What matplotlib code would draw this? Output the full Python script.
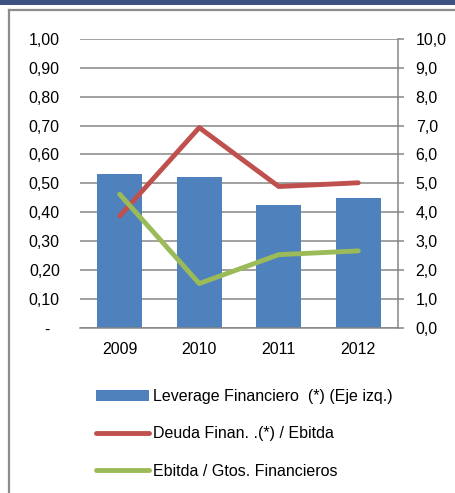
import matplotlib
matplotlib.use("Agg")
import matplotlib.pyplot as plt
from matplotlib.patches import Rectangle
from matplotlib.lines import Line2D

plt.rcParams['font.family'] = ['Liberation Sans', 'DejaVu Sans']

years = ["2009", "2010", "2011", "2012"]
leverage = [0.532, 0.522, 0.426, 0.449]
deuda_ebitda = [3.87, 6.93, 4.89, 5.02]
ebitda_gtos = [4.62, 1.53, 2.53, 2.66]

left_ticks = [0.0, 0.1, 0.2, 0.3, 0.4, 0.5, 0.6, 0.7, 0.8, 0.9, 1.0]
left_labels = ["-  ", "0,10", "0,20", "0,30", "0,40", "0,50", "0,60", "0,70", "0,80", "0,90", "1,00"]
right_ticks = [0, 1, 2, 3, 4, 5, 6, 7, 8, 9, 10]
right_labels = ["0,0", "1,0", "2,0", "3,0", "4,0", "5,0", "6,0", "7,0", "8,0", "9,0", "10,0"]

labels = ["Leverage Financiero  (*) (Eje izq.)", "Deuda Finan. .(*) / Ebitda", "Ebitda / Gtos. Financieros"]

W, H = 456, 493
fig = plt.figure(figsize=(W / 100, H / 100), dpi=100)

# banner and frame
fig.patches.append(Rectangle((0, 1 - 4.5 / H), 1, 4.5 / H, transform=fig.transFigure,
                             facecolor="#3D5280", edgecolor="none"))
frame_c = "#8C8C8C"
fig.lines.append(Line2D([9.5 / W, 1], [1 - 10 / H, 1 - 10 / H], transform=fig.transFigure,
                        color=frame_c, lw=1.6))
fig.lines.append(Line2D([9.5 / W, 9.5 / W], [0, 1 - 10 / H], transform=fig.transFigure,
                        color=frame_c, lw=1.6))

ax_l, ax_r, ax_t, ax_b = 80, 398, 39, 327.7
ax = fig.add_axes([ax_l / W, 1 - ax_b / H, (ax_r - ax_l) / W, (ax_b - ax_t) / H])
x = list(range(len(years)))
bar_c = "#4F81BD"
red_c = "#C0504D"
green_c = "#9BBB59"
grid_c = "#868686"
fs = 11.5

ax.bar(x, leverage, width=0.566, color=bar_c, zorder=2)
ax.set_xlim(-0.5, 3.5)
ax.set_ylim(0, 1.0)
ax.set_yticks(left_ticks)
ax.set_yticklabels(left_labels)
ax.set_xticks(x)
ax.set_xticklabels(years)
ax.yaxis.grid(True, color=grid_c, lw=1.1)
ax.set_axisbelow(True)
ax.tick_params(axis='y', length=0, pad=14.5, labelsize=fs)
ax.tick_params(axis='x', length=0, pad=10.5, labelsize=fs)
for s in ["top", "left", "right"]:
    ax.spines[s].set_visible(False)
ax.spines["bottom"].set_color(grid_c)
ax.spines["bottom"].set_linewidth(1.1)

ax2 = ax.twinx()
ax2.plot(x, deuda_ebitda, color=red_c, lw=3.5, solid_capstyle='round', solid_joinstyle='round', zorder=3)
ax2.plot(x, ebitda_gtos, color=green_c, lw=3.5, solid_capstyle='round', solid_joinstyle='round', zorder=3)
ax2.set_ylim(0, 10)
ax2.set_yticks(right_ticks)
ax2.set_yticklabels(right_labels)
ax2.tick_params(axis='y', length=4.2, width=1.1, color=grid_c, pad=8.5, labelsize=fs)
for s in ["top", "left", "bottom"]:
    ax2.spines[s].set_visible(False)
ax2.spines["right"].set_color(grid_c)
ax2.spines["right"].set_linewidth(1.1)

handles = [Rectangle((0, 0), 1, 1, facecolor=bar_c, edgecolor="none"),
           Line2D([], [], color=red_c, lw=3.5, solid_capstyle='round'),
           Line2D([], [], color=green_c, lw=3.5, solid_capstyle='round')]
fig.legend(handles, labels, loc="upper left", bbox_to_anchor=(96 / W, 1 - 389 / H),
           frameon=False, fontsize=fs, handlelength=3.3, handleheight=0.65,
           handletextpad=0.3, labelspacing=1.4, borderaxespad=0, borderpad=0)

fig.savefig("out.png", dpi=100)
